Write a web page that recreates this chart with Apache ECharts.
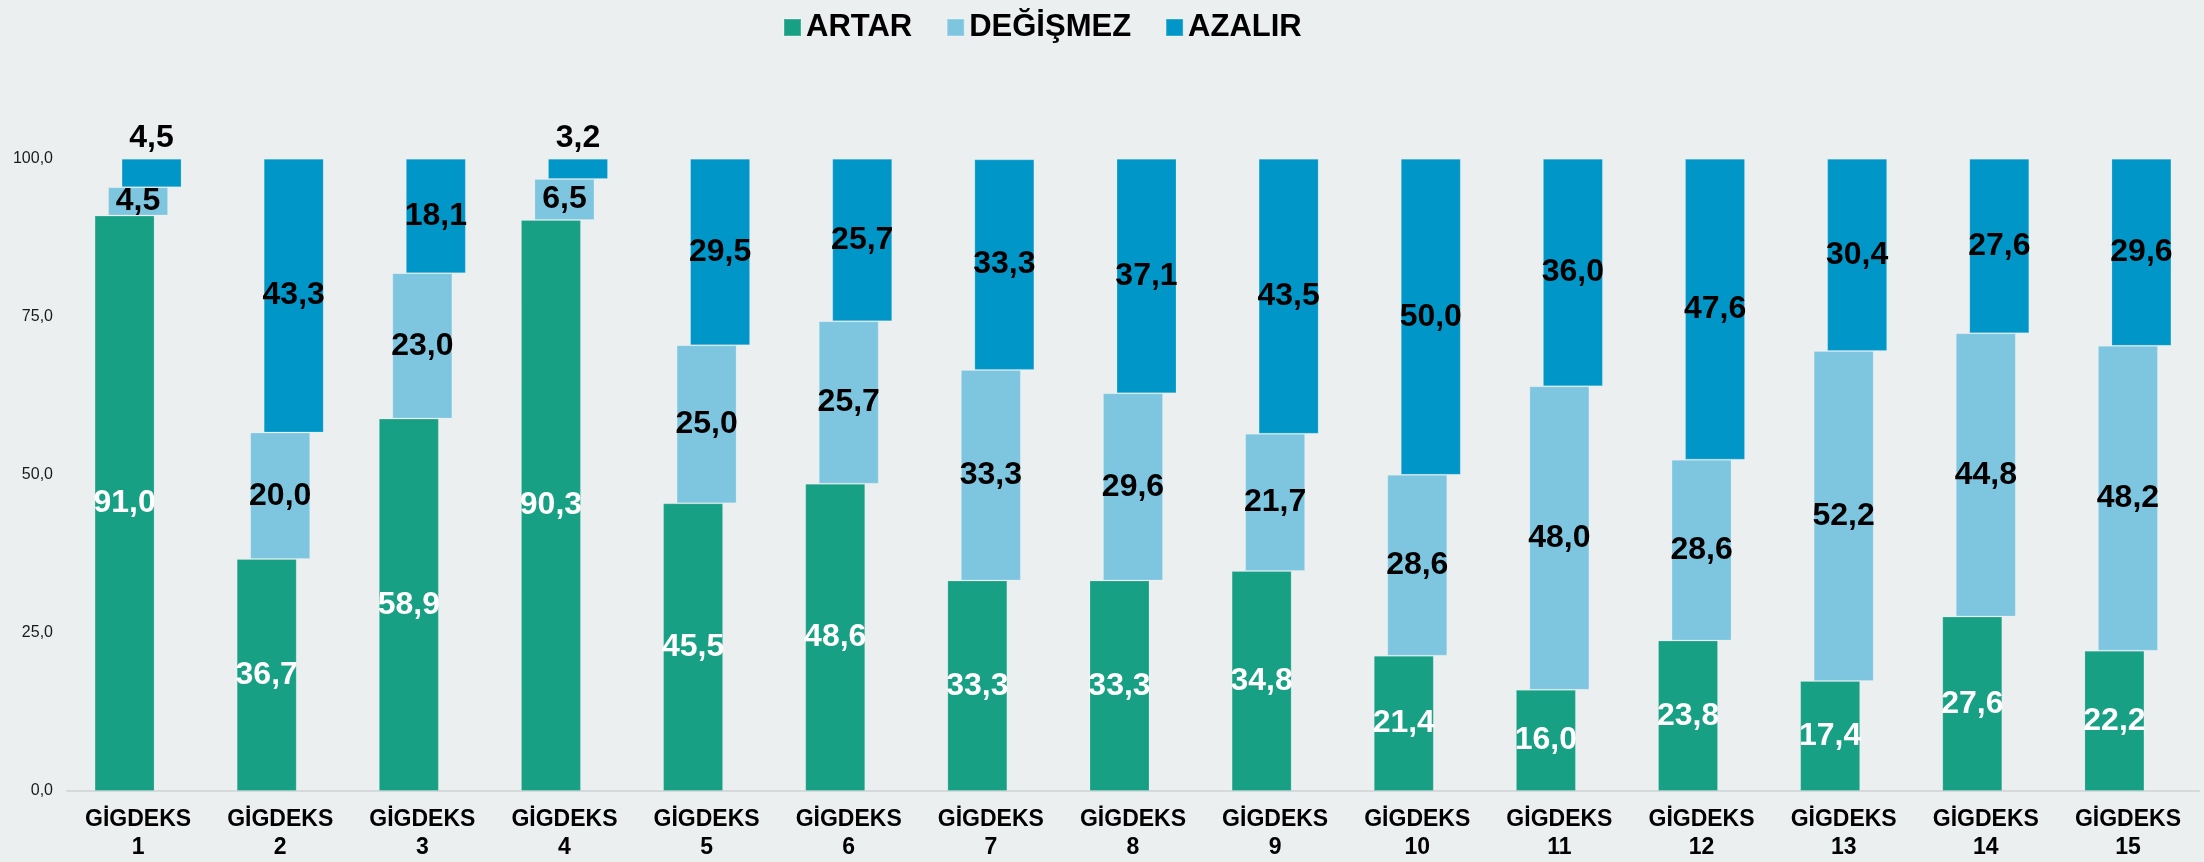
<!DOCTYPE html>
<html>
<head>
<meta charset="utf-8">
<script src="https://cdn.jsdelivr.net/npm/echarts@6/dist/echarts.min.js"></script>
<style>
html,body{margin:0;padding:0;background:#ebeff0;}
#chart{width:2204px;height:862px;}
</style>
</head>
<body>
<div id="chart"></div>
<script>
const categories = ['GİGDEKS\n1','GİGDEKS\n2','GİGDEKS\n3','GİGDEKS\n4','GİGDEKS\n5','GİGDEKS\n6','GİGDEKS\n7','GİGDEKS\n8','GİGDEKS\n9','GİGDEKS\n10','GİGDEKS\n11','GİGDEKS\n12','GİGDEKS\n13','GİGDEKS\n14','GİGDEKS\n15'];
const seriesNames = ['ARTAR','DEĞİŞMEZ','AZALIR'];
const artar    = [91.0, 36.7, 58.9, 90.3, 45.5, 48.6, 33.3, 33.3, 34.8, 21.4, 16.0, 23.8, 17.4, 27.6, 22.2];
const degismez = [4.5, 20.0, 23.0, 6.5, 25.0, 25.7, 33.3, 29.6, 21.7, 28.6, 48.0, 28.6, 52.2, 44.8, 48.2];
const azalir   = [4.5, 43.3, 18.1, 3.2, 29.5, 25.7, 33.3, 37.1, 43.5, 50.0, 36.0, 47.6, 30.4, 27.6, 29.6];
const yTicks = [0, 25, 50, 75, 100];

const colors = ['#18a085', '#7ec6e0', '#0097c8'];
const fmt = v => (typeof v === 'object' ? v.value : v).toFixed(1).replace('.', ',');
const font = '"Liberation Sans", Arial, sans-serif';

const base1 = artar.slice();
const base2 = artar.map((v, i) => v + degismez[i]);

const common = {
  type: 'bar',
  barWidth: 60,
  barGap: '-77.5%',
  itemStyle: {borderColor: 'rgba(255,255,255,0.18)', borderWidth: 1}
};
const labelStyle = (color) => ({
  show: true, position: 'inside', color: color, fontSize: 32, fontWeight: 'bold', fontFamily: font,
  formatter: p => fmt(p.value)
});
const baseSeries = (stack, data) => ({
  type: 'bar', stack: stack, barWidth: 60, barGap: '-77.5%', silent: true,
  itemStyle: {color: 'rgba(0,0,0,0)'}, label: {show: false}, tooltip: {show: false},
  emphasis: {disabled: true}, data: data
});

const option = {
  backgroundColor: '#ebeff0',
  animation: false,
  textStyle: {fontFamily: font},
  legend: {
    data: seriesNames,
    left: 778, top: 7,
    itemWidth: 17, itemHeight: 17, itemGap: 34,
    icon: 'rect',
    textStyle: {fontSize: 31, fontWeight: 'bold', color: '#000', fontFamily: font}
  },
  grid: {left: 67, right: 5, top: 158.7, bottom: 69.5, containLabel: false},
  xAxis: {
    type: 'category', data: categories,
    axisTick: {show: false},
    axisLine: {lineStyle: {color: '#d6d9db', width: 2}},
    axisLabel: {fontSize: 23, fontWeight: 'bold', color: '#000', lineHeight: 28, margin: 15, fontFamily: font, interval: 0}
  },
  yAxis: {
    type: 'value', min: yTicks[0], max: yTicks[yTicks.length - 1], interval: 25,
    splitLine: {show: false}, axisLine: {show: false}, axisTick: {show: false},
    axisLabel: {fontSize: 16, color: '#1a1a1a', margin: 14, fontFamily: font, formatter: v => fmt(v)}
  },
  series: [
    Object.assign({}, common, {name: seriesNames[0], stack: 'a', color: colors[0],
      itemStyle: Object.assign({}, common.itemStyle, {color: colors[0]}),
      label: labelStyle('#fff'), data: artar}),
    baseSeries('b', base1),
    Object.assign({}, common, {name: seriesNames[1], stack: 'b', color: colors[1],
      itemStyle: Object.assign({}, common.itemStyle, {color: colors[1]}),
      label: labelStyle('#000'), data: degismez}),
    baseSeries('c', base2),
    Object.assign({}, common, {name: seriesNames[2], stack: 'c', color: colors[2],
      itemStyle: Object.assign({}, common.itemStyle, {color: colors[2]}),
      label: labelStyle('#000'),
      data: azalir.map(v => v < 5 ? {value: v, label: {position: 'top', distance: 5}} : v)})
  ]
};

const chart = echarts.init(document.getElementById('chart'), null, {renderer: 'canvas'});
chart.setOption(option);
</script>
</body>
</html>
